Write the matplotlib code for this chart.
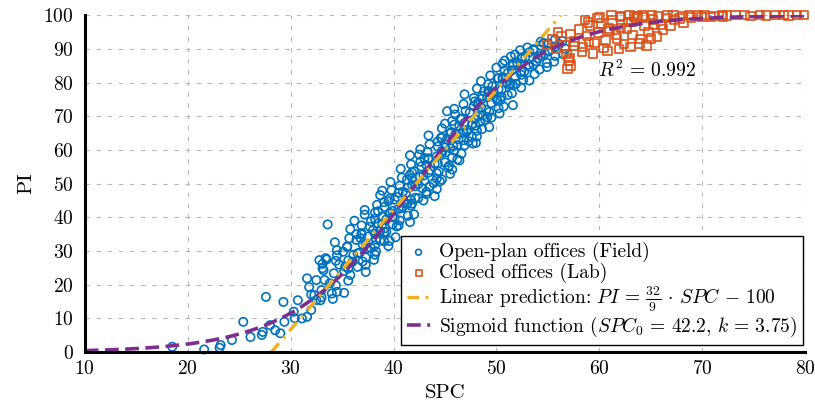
import numpy as np
import matplotlib
matplotlib.use("Agg")
import matplotlib.pyplot as plt

plt.rcParams['font.family'] = ['cmr10', 'DejaVu Serif']
plt.rcParams['mathtext.fontset'] = 'cm'
plt.rcParams['axes.formatter.use_mathtext'] = True

# ---------------- data ----------------
x_ticks = [10, 20, 30, 40, 50, 60, 70, 80]
y_ticks = [0, 10, 20, 30, 40, 50, 60, 70, 80, 90, 100]

field_spc = [
    # sparse low points
    18.5, 21.6, 23.1, 23.2, 24.3, 25.4, 26.1, 27.6, 27.2, 27.3, 29.3, 28.0, 28.5, 29.0,
    29.4, 30.3, 30.4, 31.1, 31.6, 31.6, 32.8, 33.5, 32.3, 32.5, 32.9, 32.0, 33.0, 34.0,
    34.5, 33.8, 33.3, 33.2, 32.5, 33.6, 30.7, 32.0, 33.0, 34.1, 35.2, 31.8, 34.4, 35.6,
    # ~24
    33.1, 34.2, 35.2, 36.5, 37.3, 34.7, 35.8,
    # ~26
    33.1, 34.4, 35.3, 36.0, 37.3, 38.1, 35.6,
    # ~28
    34.5, 33.4, 35.6, 36.5, 37.3, 38.2, 35.1, 37.0,
    # ~30
    34.5, 35.5, 36.7, 37.4, 38.3, 39.5, 36.1, 37.0,
    # ~32
    34.3, 35.5, 36.4, 37.3, 38.2, 39.1, 36.8, 37.8, 38.7,
    # ~34
    35.7, 36.4, 37.5, 38.3, 39.1, 40.2, 36.9, 38.0, 39.6,
    # ~36
    35.8, 36.9, 37.7, 38.7, 39.3, 40.5, 38.2, 39.2, 39.9,
    # ~38
    36.9, 37.8, 38.5, 39.3, 40.3, 41.6, 36.2, 38.9, 39.9,
    # ~40
    37.2, 38.2, 38.9, 39.7, 40.6, 41.4, 38.5, 40.1, 42.0,
    # ~42
    37.2, 38.2, 39.1, 39.9, 40.8, 41.7, 39.6, 40.5, 41.3,
    # ~44
    38.4, 39.1, 40.1, 40.9, 41.8, 42.9, 39.5, 41.3, 42.4,
    # ~46
    38.7, 39.6, 40.4, 41.2, 42.1, 43.2, 40.9, 41.7, 44.0,
    # ~48
    39.8, 40.5, 41.4, 42.1, 43.2, 44.2, 38.9, 41.8, 42.8,
    # ~50
    39.7, 40.6, 41.3, 42.4, 43.0, 43.9, 41.8, 43.5, 44.5,
    # ~52
    40.8, 41.6, 42.5, 43.4, 44.2, 45.5, 42.0, 42.9, 44.7,
    # ~54
    40.7, 41.8, 42.7, 43.6, 44.4, 45.3, 43.2, 44.2, 45.7,
    # ~56
    41.7, 42.6, 43.4, 44.3, 45.4, 46.4, 43.0, 44.0, 45.0,
    # ~58
    42.5, 43.4, 44.2, 45.1, 45.7, 46.6, 41.6, 44.7, 46.2,
    # ~60
    42.6, 43.3, 44.3, 45.0, 45.9, 46.9, 44.7, 45.5, 47.7,
    # ~62
    43.5, 44.3, 45.2, 46.2, 46.8, 48.0, 44.7, 45.8, 47.3,
    # ~64
    43.4, 44.6, 45.5, 46.3, 47.1, 48.1, 46.0, 46.8, 47.6,
    # ~66
    44.7, 45.6, 46.4, 47.2, 48.1, 49.3, 45.9, 46.8, 48.6,
    # ~68
    45.0, 45.7, 46.5, 47.6, 48.4, 49.5, 46.9, 48.0, 48.9,
    # ~70
    46.0, 46.6, 47.4, 48.2, 49.1, 50.3, 45.2, 47.9, 48.7,
    # ~72
    45.9, 47.0, 47.8, 48.5, 49.3, 50.2, 48.2, 49.0, 50.7,
    # ~74
    46.8, 47.9, 48.6, 49.5, 50.4, 51.6, 48.2, 49.1, 50.1,
    # ~76
    46.9, 47.8, 48.6, 49.7, 50.5, 51.5, 49.2, 50.0, 51.1,
    # ~78
    48.1, 48.8, 49.6, 50.5, 51.3, 52.4, 49.3, 50.2, 51.9,
    # ~80
    48.5, 49.2, 50.1, 51.0, 51.6, 52.6, 50.6, 51.4, 53.2,
    # ~82
    49.4, 50.2, 51.1, 51.8, 52.7, 53.7, 50.6, 51.5, 52.4,
    # ~84
    50.0, 50.8, 51.6, 52.4, 53.2, 54.2, 50.6, 52.0, 53.6, 54.9,
    # ~86
    50.8, 51.6, 52.4, 53.1, 53.9, 54.9, 51.4, 52.8, 54.3, 55.6,
    # ~88
    51.8, 52.5, 53.2, 54.0, 54.7, 55.7, 52.3, 53.6, 55.1, 56.5,
    # ~90
    53.0, 53.6, 54.3, 55.0, 55.8, 56.7, 54.6, 56.1,
    # ~92
    54.3, 55.0, 55.7, 56.4,
]
field_pi = [
    1.6, 0.8, 1.3, 2.1, 3.6, 9.0, 4.5, 16.4, 5.1, 6.0, 14.9, 8.0, 6.5, 5.6,
    9.0, 12.0, 10.1, 10.0, 10.5, 21.9, 27.3, 27.5, 16.9, 15.5, 15.4, 12.5, 18.4, 17.4,
    17.9, 20.4, 21.4, 24.3, 21.4, 37.9, 15.4, 17.1, 16.3, 15.8, 17.6, 19.3, 19.8, 21.2,
    24.9, 23.4, 24.1, 25.3, 23.8, 26.0, 22.9,
    26.2, 27.1, 25.4, 26.8, 25.9, 27.4, 24.8,
    28.7, 27.9, 27.2, 29.3, 28.1, 28.9, 29.8, 26.9,
    30.3, 31.2, 29.5, 30.8, 29.9, 31.5, 28.9, 32.0,
    32.6, 31.4, 33.3, 32.0, 31.7, 32.9, 33.8, 30.9, 33.1,
    33.8, 35.0, 34.3, 33.4, 35.6, 34.1, 34.9, 36.1, 33.0,
    36.5, 35.3, 37.2, 36.0, 35.7, 37.6, 35.1, 36.8, 37.9,
    37.6, 38.8, 38.2, 39.4, 37.3, 38.6, 39.0, 37.9, 40.1,
    40.8, 39.6, 40.2, 41.3, 39.1, 40.5, 41.8, 39.9, 40.9,
    42.2, 41.4, 43.1, 41.9, 42.7, 43.5, 41.1, 42.5, 44.0,
    43.7, 44.5, 45.3, 43.2, 44.1, 45.0, 44.8, 43.9, 45.7,
    46.6, 45.5, 46.0, 47.2, 45.8, 46.9, 47.6, 45.2, 46.3,
    48.1, 47.3, 48.8, 49.2, 47.6, 48.4, 47.9, 49.6, 48.6,
    50.5, 49.4, 51.2, 49.8, 50.9, 50.1, 51.6, 49.1, 50.7,
    51.8, 52.6, 52.1, 53.3, 51.5, 52.9, 53.7, 52.4, 51.2,
    54.4, 53.3, 55.1, 54.0, 53.6, 54.8, 55.5, 53.1, 54.2,
    55.7, 56.5, 57.2, 56.0, 55.3, 56.9, 57.6, 55.9, 56.3,
    58.6, 57.5, 58.1, 59.3, 57.8, 58.9, 58.4, 59.7, 57.2,
    60.2, 59.4, 61.0, 60.7, 59.8, 61.4, 59.1, 60.5, 61.9,
    61.7, 62.5, 63.2, 61.4, 62.9, 62.1, 63.6, 61.2, 62.6,
    64.3, 63.6, 64.9, 63.2, 65.4, 64.0, 64.6, 65.8, 63.9,
    66.4, 65.3, 67.1, 66.0, 65.7, 66.8, 67.5, 65.1, 66.2,
    67.8, 68.6, 69.2, 67.4, 68.3, 69.6, 68.0, 67.2, 68.9,
    70.5, 69.3, 71.1, 70.0, 69.7, 70.8, 71.5, 69.1, 70.3,
    72.2, 71.6, 73.0, 72.7, 71.3, 72.4, 73.5, 71.9, 72.9,
    73.6, 74.4, 75.2, 73.9, 74.8, 73.3, 74.1, 75.6, 74.6,
    76.5, 75.4, 76.0, 77.1, 75.8, 76.8, 77.5, 75.2, 76.3,
    78.2, 77.4, 78.9, 77.8, 79.3, 78.5, 77.1, 78.0, 79.6,
    80.4, 79.5, 81.2, 80.0, 79.2, 80.8, 81.6, 79.8, 80.6,
    82.1, 81.3, 82.8, 81.7, 83.2, 82.5, 81.1, 83.6, 82.3,
    84.4, 83.6, 85.0, 83.3, 84.7, 83.9, 85.6, 85.9, 85.3, 84.6,
    86.5, 85.6, 87.1, 85.3, 86.3, 85.8, 87.7, 87.5, 87.9, 86.2,
    88.3, 87.5, 89.0, 87.2, 88.6, 87.9, 89.6, 89.9, 89.3, 88.4,
    90.4, 89.6, 91.0, 89.4, 90.7, 90.0, 91.7, 91.4,
    92.1, 91.6, 92.8, 92.3,
]

lab_spc = [
    54.9, 55.4, 55.8, 56.3, 56.7, 57.2, 57.6, 58.0, 58.4, 58.8,
    59.1, 59.5, 59.9, 60.2, 60.6, 61.0, 61.3, 61.7, 62.1, 62.4,
    62.8, 63.2, 63.6, 64.0, 64.4, 64.8, 65.2, 65.6, 66.0, 66.5,
    56.8, 57.0, 57.2, 56.9, 57.1,
    58.6, 59.8, 60.9, 62.0, 63.1, 64.2, 65.3,
    56.0, 57.5, 59.0, 60.4, 61.6, 62.7, 63.9, 65.0, 66.2, 67.3,
    58.3, 59.4, 60.8, 61.9, 63.0, 64.6, 58.9, 60.0, 61.2, 63.7, 66.9, 68.2,
    62.1, 62.9, 63.4, 64.2, 65.1, 65.7, 66.6, 67.2, 68.1, 68.7,
    69.6, 70.2, 71.1, 71.9, 72.4, 73.2, 74.1, 74.7, 75.6, 76.2,
    77.1, 77.9, 78.4, 79.2, 79.9, 67.8, 68.9, 69.9, 70.8, 72.0,
]
lab_pi = [
    91.2, 92.8, 89.9, 93.6, 91.0, 94.4, 92.2, 95.7, 90.6, 93.8,
    96.9, 91.7, 94.9, 97.6, 92.5, 95.3, 98.4, 93.1, 96.2, 91.4,
    97.9, 94.1, 99.0, 92.9, 96.8, 95.0, 98.7, 93.6, 97.3, 99.2,
    88.5, 86.6, 85.0, 84.0, 87.3,
    98.6, 99.1, 96.0, 99.4, 98.0, 99.5, 97.2,
    94.8, 90.8, 92.0, 90.2, 94.3, 96.1, 91.5, 93.0, 95.8, 98.5,
    89.0, 88.6, 89.4, 90.0, 90.5, 91.0, 97.8, 99.3, 100.0, 99.8, 97.0, 97.8,
    99.8, 100.0, 99.6, 99.9, 100.0, 99.7, 99.9, 100.0, 99.8, 100.0,
    99.9, 100.0, 99.7, 100.0, 99.9, 100.0, 100.0, 99.8, 100.0, 99.9,
    100.0, 100.0, 99.9, 100.0, 100.0, 99.0, 99.3, 99.5, 99.4, 99.6,
]

lin_slope = 32 / 9
lin_offset = -100
sig_spc0 = 42.2
sig_scale = 6.0
r2_text = r'$R^2\,=\,0.992$'

# ---------------- colours ----------------
C_BLUE = '#0072BD'
C_RED = '#D95319'
C_YEL = '#EDB120'
C_PUR = '#7E2F8E'

fig = plt.figure(figsize=(8.15, 4.09), dpi=100)
ax = fig.add_axes([0.104, 0.139, 0.884, 0.824])

ax.grid(True, color='#b8b8b8', linestyle=(0, (4, 6)), linewidth=0.8)
ax.set_axisbelow(True)

ax.scatter(field_spc, field_pi, s=36, facecolors='none', edgecolors=C_BLUE,
           linewidths=1.2, marker='o', label='Open-plan offices (Field)',
           clip_on=False, zorder=3)
ax.scatter(lab_spc, lab_pi, s=38, facecolors='none', edgecolors=C_RED,
           linewidths=1.2, marker='s', label='Closed offices (Lab)',
           clip_on=False, zorder=3)

x_lin = np.array([-lin_offset / lin_slope, (100 - lin_offset) / lin_slope])
ax.plot(x_lin, lin_slope * x_lin + lin_offset, color=C_YEL, linewidth=2.4,
        linestyle=(0, (3.5, 2.0, 0.8, 2.0)), zorder=5,
        label=r'Linear prediction: $PI\,=\,\frac{32}{9}\,\cdot\,SPC\,-\,100$')

xs = np.linspace(10, 80, 400)
ax.plot(xs, 100 / (1 + np.exp(-(xs - sig_spc0) / sig_scale)), color=C_PUR,
        linewidth=2.6, linestyle=(0, (3.8, 1.8)), zorder=4,
        label=r'Sigmoid function ($SPC_0\,=\,42.2,\, k\,=\,3.75$)')

ax.set_xlim(10, 80)
ax.set_ylim(0, 100)
ax.set_xticks(x_ticks)
ax.set_yticks(y_ticks)
ax.tick_params(length=0, labelsize=14, pad=6)
ax.tick_params(axis='y', pad=8)

for s in ['top', 'right']:
    ax.spines[s].set_visible(False)
for s in ['left', 'bottom']:
    ax.spines[s].set_linewidth(2.2)
    ax.spines[s].set_zorder(6)

ax.set_xlabel('SPC', fontsize=15, labelpad=4)
ax.set_ylabel('PI', fontsize=15, labelpad=6)

ax.text(59.9, 83.7, r2_text, fontsize=14, va='center', ha='left')

leg = ax.legend(loc='lower right', bbox_to_anchor=(0.997, 0.021), fontsize=14,
                frameon=True, fancybox=False, edgecolor='black', framealpha=1,
                borderaxespad=0.0, handlelength=1.2, handletextpad=0.45,
                labelspacing=0.05, borderpad=0.3, scatterpoints=1,
                markerscale=0.7)
leg.get_frame().set_linewidth(1.0)

fig.savefig('out.png', dpi=100)
